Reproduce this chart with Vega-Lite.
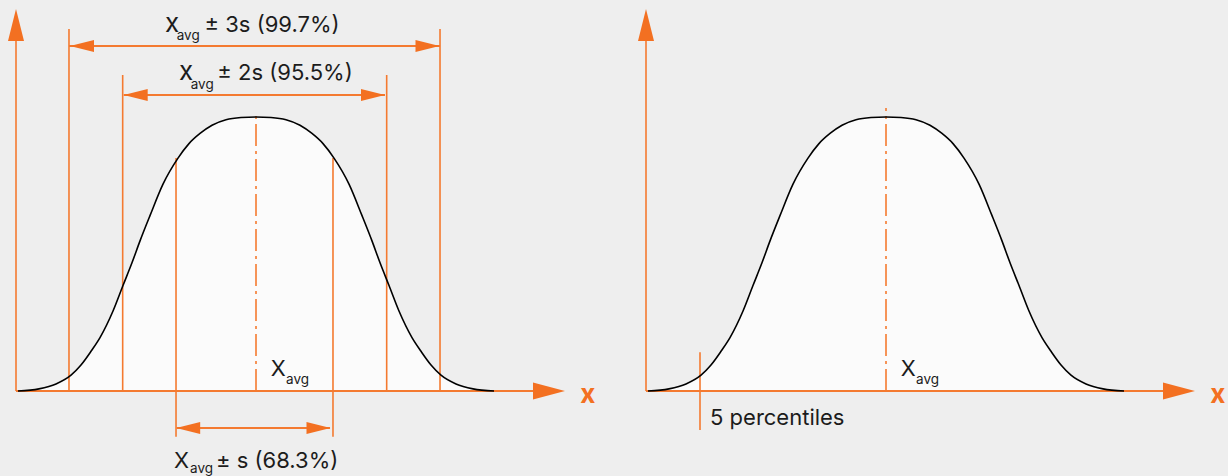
{
  "$schema": "https://vega.github.io/schema/vega-lite/v6.json",
  "background": "#eeeeee",
  "padding": 0,
  "spacing": 0,
  "config": {"view": {"stroke": null}, "text": {"font": "Inter", "color": "#1c1c1c"}},
  "datasets": {
    "curve": [
      {"x": -3.967, "y": 0}, {"x": -3.617, "y": 0.008}, {"x": -3.333, "y": 0.026}, {"x": -3.083, "y": 0.058},
      {"x": -2.917, "y": 0.095}, {"x": -2.75, "y": 0.145}, {"x": -2.6, "y": 0.195}, {"x": -2.383, "y": 0.292},
      {"x": -2.217, "y": 0.385}, {"x": -2.067, "y": 0.468}, {"x": -1.933, "y": 0.548}, {"x": -1.767, "y": 0.64},
      {"x": -1.55, "y": 0.755}, {"x": -1.3, "y": 0.85}, {"x": -1.117, "y": 0.903}, {"x": -0.933, "y": 0.94},
      {"x": -0.733, "y": 0.97}, {"x": -0.5, "y": 0.99}, {"x": -0.25, "y": 0.998}, {"x": 0, "y": 1.0},
      {"x": 0.25, "y": 0.998}, {"x": 0.5, "y": 0.99}, {"x": 0.733, "y": 0.97}, {"x": 0.933, "y": 0.94},
      {"x": 1.117, "y": 0.903}, {"x": 1.3, "y": 0.85}, {"x": 1.55, "y": 0.755}, {"x": 1.767, "y": 0.64},
      {"x": 1.933, "y": 0.548}, {"x": 2.067, "y": 0.468}, {"x": 2.217, "y": 0.385}, {"x": 2.383, "y": 0.292},
      {"x": 2.6, "y": 0.195}, {"x": 2.75, "y": 0.145}, {"x": 2.917, "y": 0.095}, {"x": 3.083, "y": 0.058},
      {"x": 3.333, "y": 0.026}, {"x": 3.617, "y": 0.008}, {"x": 3.967, "y": 0}
    ],
    "vrules": [
      {"panel": 1, "x": -4, "y": 0, "y2": 1.281},
      {"panel": 1, "x": -3.117, "y": 0, "y2": 1.321},
      {"panel": 1, "x": 3.067, "y": 0, "y2": 1.321},
      {"panel": 1, "x": -2.222, "y": 0, "y2": 1.153},
      {"panel": 1, "x": 2.178, "y": 0, "y2": 1.153},
      {"panel": 1, "x": -1.333, "y": -0.167, "y2": 0.85},
      {"panel": 1, "x": 1.283, "y": -0.167, "y2": 0.85},
      {"panel": 2, "x": -4, "y": 0, "y2": 1.281},
      {"panel": 2, "x": -3.1, "y": -0.142, "y2": 0.142}
    ],
    "hrules": [
      {"panel": 1, "x": -4, "x2": 4.617, "y": 0},
      {"panel": 1, "x": -3.117, "x2": 3.067, "y": 1.259},
      {"panel": 1, "x": -2.205, "x2": 2.15, "y": 1.08},
      {"panel": 1, "x": -1.322, "x2": 1.233, "y": -0.135},
      {"panel": 2, "x": -4, "x2": 4.617, "y": 0}
    ],
    "centre": [
      {"panel": 1, "x": 0, "y": 0, "y2": 1.022},
      {"panel": 2, "x": 0, "y": 0, "y2": 1.033}
    ],
    "axisArrows": [
      {"panel": 1, "x": -4, "y": 1.336, "dir": "up"},
      {"panel": 1, "x": 4.883, "y": 0, "dir": "right"},
      {"panel": 2, "x": -4, "y": 1.336, "dir": "up"},
      {"panel": 2, "x": 4.883, "y": 0, "dir": "right"}
    ],
    "dimArrows": [
      {"panel": 1, "x": -2.9, "y": 1.259, "dir": "left"},
      {"panel": 1, "x": 2.858, "y": 1.259, "dir": "right"},
      {"panel": 1, "x": -2.005, "y": 1.08, "dir": "left"},
      {"panel": 1, "x": 1.95, "y": 1.08, "dir": "right"},
      {"panel": 1, "x": -1.13, "y": -0.135, "dir": "left"},
      {"panel": 1, "x": 1.042, "y": -0.135, "dir": "right"}
    ],
    "bigText": [
      {"panel": 1, "x": -1.517, "y": 1.31, "t": "x"},
      {"panel": 1, "x": -1.283, "y": 1.135, "t": "x"}
    ],
    "mainText": [
      {"panel": 1, "x": -0.858, "y": 1.31, "t": "± 3s (99.7%)"},
      {"panel": 1, "x": -0.645, "y": 1.135, "t": "± 2s (95.5%)"},
      {"panel": 1, "x": -1.367, "y": -0.281, "t": "X"},
      {"panel": 1, "x": -0.667, "y": -0.281, "t": "± s (68.3%)"},
      {"panel": 1, "x": 0.245, "y": 0.056, "t": "X"},
      {"panel": 2, "x": 0.245, "y": 0.056, "t": "X"},
      {"panel": 2, "x": -2.933, "y": -0.124, "t": "5 percentiles"}
    ],
    "subText": [
      {"panel": 1, "x": -1.322, "y": 1.281, "t": "avg"},
      {"panel": 1, "x": -1.088, "y": 1.102, "t": "avg"},
      {"panel": 1, "x": -1.1, "y": -0.298, "t": "avg"},
      {"panel": 1, "x": 0.5, "y": 0.024, "t": "avg"},
      {"panel": 2, "x": 0.5, "y": 0.024, "t": "avg"}
    ],
    "axisLabels": [
      {"panel": 1, "x": 5.53, "y": -0.015, "t": "x"},
      {"panel": 2, "x": 5.53, "y": -0.015, "t": "x"}
    ]
  },
  "hconcat": [
    {
      "width": 630,
      "height": 476,
      "resolve": {"scale": {"shape": "independent"}},
      "encoding": {
        "x": {"field": "x", "type": "quantitative", "scale": {"domain": [-4.2667, 6.2333], "nice": false, "zero": false}, "axis": null},
        "y": {"field": "y", "type": "quantitative", "scale": {"domain": [-0.31, 1.427], "nice": false, "zero": false}, "axis": null}
      },
      "layer": [
        {"data": {"name": "curve"}, "mark": {"type": "area", "interpolate": "monotone", "fill": "#fbfbfb"}, "encoding": {"y2": {"datum": 0}}},
        {"data": {"name": "vrules"}, "transform": [{"filter": "datum.panel === 1"}], "mark": {"type": "rule", "color": "#f47a30", "strokeWidth": 1.6}, "encoding": {"y2": {"field": "y2"}}},
        {"data": {"name": "hrules"}, "transform": [{"filter": "datum.panel === 1"}], "mark": {"type": "rule", "color": "#f47a30", "strokeWidth": 2}, "encoding": {"x2": {"field": "x2"}}},
        {"data": {"name": "centre"}, "transform": [{"filter": "datum.panel === 1"}], "mark": {"type": "rule", "color": "#f47a30", "strokeWidth": 1.6, "strokeDash": [22, 5, 3, 5]}, "encoding": {"y2": {"field": "y2"}}},
        {"data": {"name": "curve"}, "mark": {"type": "line", "interpolate": "monotone", "color": "#000000", "strokeWidth": 1.6}},
        {"data": {"name": "axisArrows"}, "transform": [{"filter": "datum.panel === 1"}], "mark": {"type": "point", "filled": true, "opacity": 1, "size": 1024, "color": "#f37021", "strokeWidth": 0},
          "encoding": {"shape": {"field": "dir", "type": "nominal", "scale": {"domain": ["up", "right"], "range": ["M0,-1L0.5,1L-0.5,1Z", "M1,0L-1,-0.53L-1,0.53Z"]}, "legend": null}}},
        {"data": {"name": "dimArrows"}, "transform": [{"filter": "datum.panel === 1"}], "mark": {"type": "point", "filled": true, "opacity": 1, "size": 576, "color": "#f37021", "strokeWidth": 0},
          "encoding": {"shape": {"field": "dir", "type": "nominal", "scale": {"domain": ["left", "right"], "range": ["M-1,0L1,-0.5L1,0.5Z", "M1,0L-1,-0.5L-1,0.5Z"]}, "legend": null}}},
        {"data": {"name": "bigText"}, "transform": [{"filter": "datum.panel === 1"}], "mark": {"type": "text", "fontSize": 26, "align": "left", "baseline": "alphabetic"}, "encoding": {"text": {"field": "t"}}},
        {"data": {"name": "mainText"}, "transform": [{"filter": "datum.panel === 1"}], "mark": {"type": "text", "fontSize": 22, "align": "left", "baseline": "alphabetic"}, "encoding": {"text": {"field": "t"}}},
        {"data": {"name": "subText"}, "transform": [{"filter": "datum.panel === 1"}], "mark": {"type": "text", "fontSize": 13.5, "align": "left", "baseline": "alphabetic"}, "encoding": {"text": {"field": "t"}}},
        {"data": {"name": "axisLabels"}, "transform": [{"filter": "datum.panel === 1"}], "mark": {"type": "text", "fontSize": 26, "fontWeight": "bold", "color": "#f37021", "align": "center", "baseline": "middle"}, "encoding": {"text": {"field": "t"}}}
      ]
    },
    {
      "width": 598,
      "height": 476,
      "resolve": {"scale": {"shape": "independent"}},
      "encoding": {
        "x": {"field": "x", "type": "quantitative", "scale": {"domain": [-4.2667, 5.7], "nice": false, "zero": false}, "axis": null},
        "y": {"field": "y", "type": "quantitative", "scale": {"domain": [-0.31, 1.427], "nice": false, "zero": false}, "axis": null}
      },
      "layer": [
        {"data": {"name": "curve"}, "mark": {"type": "area", "interpolate": "monotone", "fill": "#fbfbfb"}, "encoding": {"y2": {"datum": 0}}},
        {"data": {"name": "vrules"}, "transform": [{"filter": "datum.panel === 2"}], "mark": {"type": "rule", "color": "#f47a30", "strokeWidth": 1.6}, "encoding": {"y2": {"field": "y2"}}},
        {"data": {"name": "hrules"}, "transform": [{"filter": "datum.panel === 2"}], "mark": {"type": "rule", "color": "#f47a30", "strokeWidth": 2}, "encoding": {"x2": {"field": "x2"}}},
        {"data": {"name": "centre"}, "transform": [{"filter": "datum.panel === 2"}], "mark": {"type": "rule", "color": "#f47a30", "strokeWidth": 1.6, "strokeDash": [22, 5, 3, 5]}, "encoding": {"y2": {"field": "y2"}}},
        {"data": {"name": "curve"}, "mark": {"type": "line", "interpolate": "monotone", "color": "#000000", "strokeWidth": 1.6}},
        {"data": {"name": "axisArrows"}, "transform": [{"filter": "datum.panel === 2"}], "mark": {"type": "point", "filled": true, "opacity": 1, "size": 1024, "color": "#f37021", "strokeWidth": 0},
          "encoding": {"shape": {"field": "dir", "type": "nominal", "scale": {"domain": ["up", "right"], "range": ["M0,-1L0.5,1L-0.5,1Z", "M1,0L-1,-0.53L-1,0.53Z"]}, "legend": null}}},
        {"data": {"name": "mainText"}, "transform": [{"filter": "datum.panel === 2"}], "mark": {"type": "text", "fontSize": 22, "align": "left", "baseline": "alphabetic"}, "encoding": {"text": {"field": "t"}}},
        {"data": {"name": "subText"}, "transform": [{"filter": "datum.panel === 2"}], "mark": {"type": "text", "fontSize": 13.5, "align": "left", "baseline": "alphabetic"}, "encoding": {"text": {"field": "t"}}},
        {"data": {"name": "axisLabels"}, "transform": [{"filter": "datum.panel === 2"}], "mark": {"type": "text", "fontSize": 26, "fontWeight": "bold", "color": "#f37021", "align": "center", "baseline": "middle"}, "encoding": {"text": {"field": "t"}}}
      ]
    }
  ]
}
